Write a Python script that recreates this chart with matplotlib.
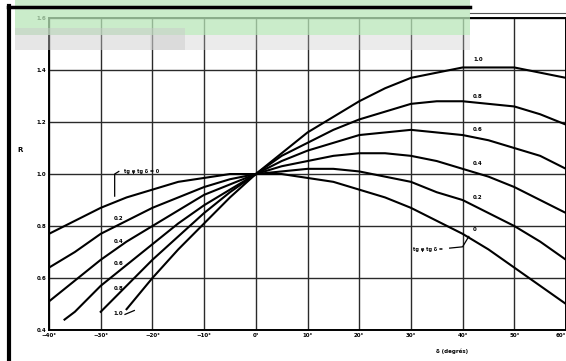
import matplotlib
matplotlib.use("Agg")
import matplotlib.pyplot as plt
from matplotlib.patches import Rectangle
from matplotlib.lines import Line2D

# R against declination, one curve per value of tg(phi)tg(delta)
x_full = [-40, -35, -30, -25, -20, -15, -10, -5, 0, 5, 10, 15, 20, 25, 30, 35, 40, 45, 50, 55, 60]
r_00 = [0.77, 0.82, 0.87, 0.91, 0.94, 0.97, 0.985, 1.0, 1.0, 1.0, 0.985, 0.97, 0.94, 0.91, 0.87, 0.82, 0.77, 0.71, 0.64, 0.57, 0.50]
r_02 = [0.64, 0.70, 0.77, 0.82, 0.87, 0.91, 0.95, 0.98, 1.0, 1.01, 1.02, 1.02, 1.01, 0.99, 0.97, 0.93, 0.90, 0.85, 0.80, 0.74, 0.67]
r_04 = [0.51, 0.59, 0.67, 0.74, 0.80, 0.86, 0.92, 0.96, 1.0, 1.03, 1.05, 1.07, 1.08, 1.08, 1.07, 1.05, 1.02, 0.99, 0.95, 0.90, 0.85]

x_06 = [-37, -35, -30, -25, -20, -15, -10, -5, 0, 5, 10, 15, 20, 25, 30, 35, 40, 45, 50, 55, 60]
r_06 = [0.44, 0.47, 0.57, 0.65, 0.73, 0.81, 0.88, 0.94, 1.0, 1.05, 1.09, 1.12, 1.15, 1.16, 1.17, 1.16, 1.15, 1.13, 1.10, 1.07, 1.02]

x_08 = [-30, -25, -20, -15, -10, -5, 0, 5, 10, 15, 20, 25, 30, 35, 40, 45, 50, 55, 60]
r_08 = [0.47, 0.57, 0.67, 0.76, 0.85, 0.93, 1.0, 1.07, 1.12, 1.17, 1.21, 1.24, 1.27, 1.28, 1.28, 1.27, 1.26, 1.23, 1.19]

x_10 = [-25, -20, -15, -10, -5, 0, 5, 10, 15, 20, 25, 30, 35, 40, 45, 50, 55, 60]
r_10 = [0.48, 0.60, 0.71, 0.81, 0.91, 1.0, 1.08, 1.16, 1.22, 1.28, 1.33, 1.37, 1.39, 1.41, 1.41, 1.41, 1.39, 1.37]

curve_names = ["0.2", "0.4", "0.6", "0.8", "1.0"]
x_ticks = [-40, -30, -20, -10, 0, 10, 20, 30, 40, 50, 60]
y_ticks = [0.4, 0.6, 0.8, 1.0, 1.2, 1.4, 1.6]

fig = plt.figure(figsize=(5.66, 3.61), dpi=100)
ax = fig.add_axes([0.0866, 0.0859, 0.9134, 0.864])

ax.plot(x_full, r_00, color='black', lw=1.5)
ax.plot(x_full, r_02, color='black', lw=1.5)
ax.plot(x_full, r_04, color='black', lw=1.5)
ax.plot(x_06, r_06, color='black', lw=1.5)
ax.plot(x_08, r_08, color='black', lw=1.5)
ax.plot(x_10, r_10, color='black', lw=1.5)

ax.set_xlim(-40, 60)
ax.set_ylim(0.4, 1.6)
ax.set_xticks(x_ticks)
ax.set_yticks(y_ticks)
ax.set_xticklabels([("\u2212%d°" % -v) if v < 0 else "%d°" % v for v in x_ticks])
ax.set_yticklabels(["%.1f" % v for v in y_ticks])
ax.tick_params(length=0, labelsize=4, pad=2)
for lab in ax.get_xticklabels() + ax.get_yticklabels():
    lab.set_fontweight('bold')
ax.get_xticklabels()[-1].set_horizontalalignment('right')
ax.grid(True, color='#2a2a2a', lw=1.0)
for s in ax.spines.values():
    s.set_linewidth(1.4)

# curve labels, right side
right_pos = [(42.0, 0.91), (42.0, 1.04), (42.0, 1.17), (42.0, 1.30), (42.0, 1.44)]
for name, (xx, yy) in zip(curve_names, right_pos):
    ax.text(xx, yy, name, fontsize=4, fontweight='bold', ha='left', va='center')
# curve labels, left side
left_pos = [(-27.5, 0.83), (-27.5, 0.74), (-27.5, 0.655), (-27.5, 0.56), (-27.5, 0.465)]
for name, (xx, yy) in zip(curve_names, left_pos):
    ax.text(xx, yy, name, fontsize=4, fontweight='bold', ha='left', va='center')

ax.text(-25.5, 1.01, "tg φ tg δ = 0", fontsize=3.5, fontweight='bold', va='center')
ax.plot([-26.5, -27.3, -27.3], [1.01, 1.0, 0.915], color='black', lw=0.9)
ax.text(30.5, 0.71, "tg φ tg δ =", fontsize=3.5, fontweight='bold', va='center')
ax.text(42.0, 0.785, "0", fontsize=4, fontweight='bold', va='center')
ax.plot([37.5, 40.0, 41.2], [0.715, 0.72, 0.76], color='black', lw=0.9)
ax.plot([-25.3, -23.5], [0.46, 0.475], color='black', lw=0.9)

ax.set_xlabel("δ (degrés)", fontsize=4, fontweight='bold', labelpad=3)
ax.xaxis.set_label_coords(0.78, -0.06)
fig.text(20 / 566, 1 - 150 / 361, "R", fontsize=5, fontweight='bold', ha='center', va='center')

# scan frame and header band
fig.add_artist(Rectangle((15 / 566, 1 - 35 / 361), 455 / 566, 35 / 361, transform=fig.transFigure,
                         color='#b9e6b9', alpha=0.75, lw=0, zorder=10))
fig.add_artist(Rectangle((15 / 566, 1 - 50 / 361), 170 / 566, 22 / 361, transform=fig.transFigure,
                         color='#c8c8c8', alpha=0.45, lw=0, zorder=10))
fig.add_artist(Rectangle((150 / 566, 1 - 50 / 361), 320 / 566, 15 / 361, transform=fig.transFigure,
                         color='#c8c8c8', alpha=0.35, lw=0, zorder=10))
fig.add_artist(Line2D([8 / 566, 470 / 566], [1 - 7 / 361, 1 - 7 / 361], transform=fig.transFigure,
                      color='black', lw=2.5, zorder=11))
fig.add_artist(Line2D([470 / 566, 1.0], [1 - 13 / 361, 1 - 13 / 361], transform=fig.transFigure,
                      color='#555555', lw=0.8, zorder=11))
fig.add_artist(Line2D([9 / 566, 9 / 566], [0, 1 - 6 / 361], transform=fig.transFigure,
                      color='black', lw=3.0, zorder=11))

fig.savefig("out.png", dpi=100)
